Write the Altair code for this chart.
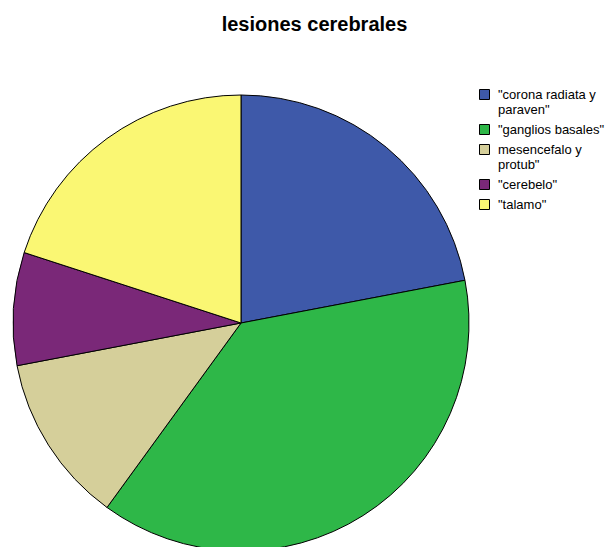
import altair as alt
import pandas as pd

categories = ['"corona radiata y\nparaven"', '"ganglios basales"', 'mesencefalo y\nprotub"', '"cerebelo"', '"talamo"']
counts = [11, 19, 6, 4, 10]
order_idx = [0, 1, 2, 3, 4]
colors = ["#3E59A9", "#2EB748", "#D5CF9A", "#7A2878", "#FAF773"]

df = pd.DataFrame({"cat": categories, "n": counts, "idx": order_idx})

chart = alt.Chart(df).mark_arc(stroke="black", strokeWidth=1, radius=228).encode(
    theta=alt.Theta("n:Q", stack=True),
    order=alt.Order("idx:Q"),
    color=alt.Color(
        "cat:N",
        sort=categories,
        scale=alt.Scale(domain=categories, range=colors),
        legend=alt.Legend(
            title=None,
            orient="none",
            legendX=478,
            legendY=48,
            labelExpr="split(datum.label, '\\n')",
            labelFont="Liberation Sans",
            labelFontSize=13,
            labelColor="black",
            labelLimit=300,
            labelOffset=7,
            symbolType="square",
            symbolSize=100,
            symbolStrokeColor="black",
            symbolStrokeWidth=1,
            symbolOpacity=1,
            rowPadding=5,
            padding=0,
        ),
    ),
    x=alt.value(241),
    y=alt.value(283),
).properties(
    width=607,
    height=507,
    padding={"left": 0, "top": 40, "right": 0, "bottom": 0},
    autosize="none",
    title=alt.Title(
        "lesiones cerebrales",
        font="Liberation Sans",
        fontSize=20,
        fontWeight="bold",
        color="black",
        anchor="middle",
        baseline="alphabetic",
        dx=11,
        dy=21,
        offset=10,
    ),
).configure_view(stroke=None)

chart.save("out.html", embed_options={"renderer": "svg", "actions": False})
